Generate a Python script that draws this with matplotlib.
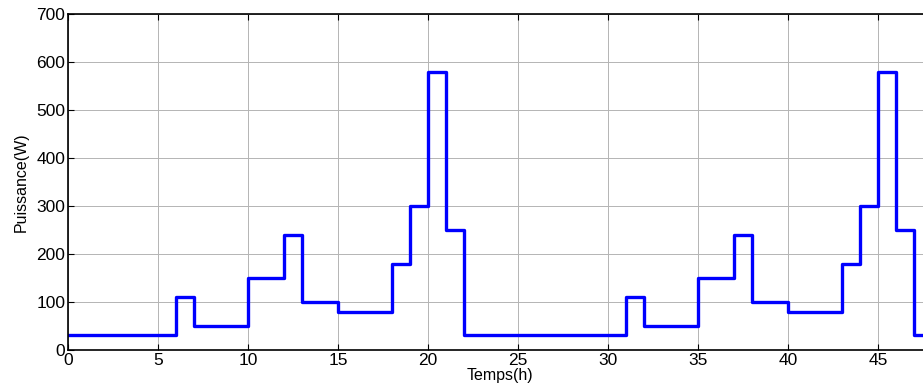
import matplotlib.pyplot as plt
import numpy as np

plt.rcParams['font.family'] = ['Liberation Sans', 'DejaVu Sans']

# hourly load profile over two days
t_start = [0, 6, 7, 10, 12, 13, 15, 18, 19, 20, 21, 22,
           31, 32, 35, 37, 38, 40, 43, 44, 45, 46, 47, 48]
power = [32, 110, 50, 150, 240, 100, 80, 180, 300, 580, 250, 32,
         110, 50, 150, 240, 100, 80, 180, 300, 580, 250, 32, 32]

xticks = [0, 5, 10, 15, 20, 25, 30, 35, 40, 45]
yticks = [0, 100, 200, 300, 400, 500, 600, 700]

fig = plt.figure(figsize=(9.23, 3.87), dpi=100)
ax = fig.add_axes([68 / 923, 37 / 387, 864 / 923, 336 / 387])
ax.step(t_start, power, where='post', color='#0000ff', lw=2.4)

ax.set_xlim(0, 48)
ax.set_ylim(0, 700)
ax.set_xticks(xticks)
ax.set_yticks(yticks)
ax.grid(True, color='#b4b4b4', lw=0.7, ls='-')
ax.tick_params(direction='in', length=4, top=True, right=True,
               labelsize=12.5, pad=2)
for s in ax.spines.values():
    s.set_linewidth(1.2)

ax.set_xlabel('Temps(h)', fontsize=11.5)
ax.set_ylabel('Puissance(W)', fontsize=11.5)
ax.xaxis.set_label_coords(0.5, -0.055)
ax.yaxis.set_label_coords(-0.046, 0.5)

plt.savefig('out.png', dpi=100)
plt.close()
